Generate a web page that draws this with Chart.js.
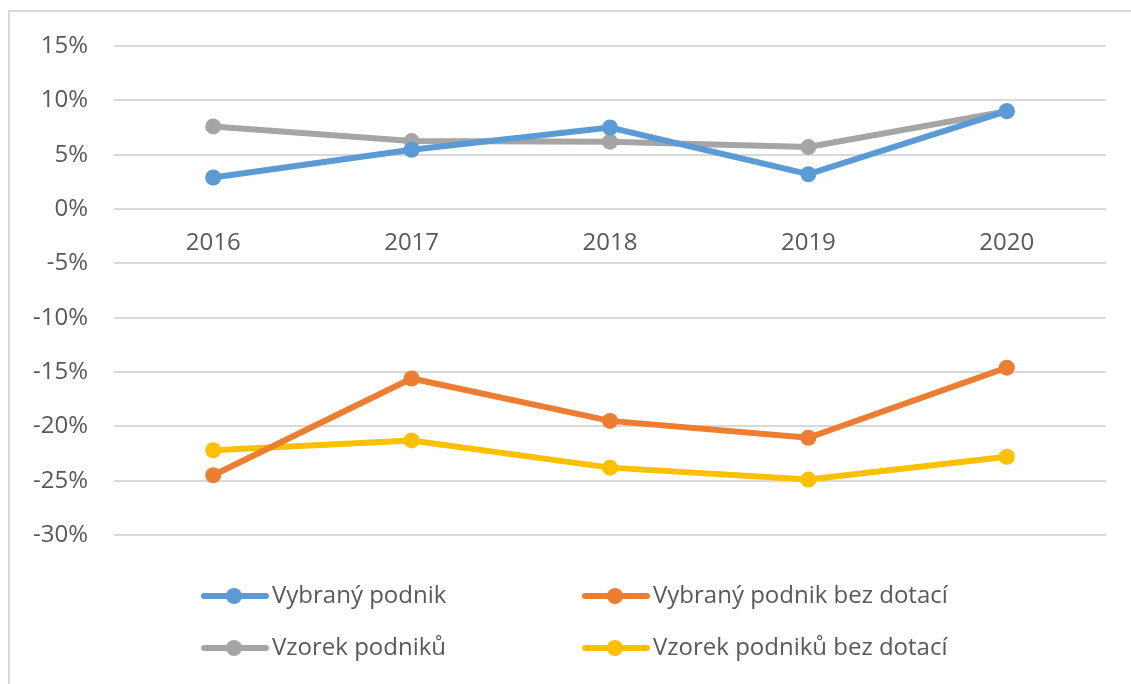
<!DOCTYPE html>
<html>
<head>
<meta charset="utf-8">
<script src="https://cdn.jsdelivr.net/npm/chart.js@4"></script>
<style>
  html, body { margin: 0; padding: 0; background: #fff; }
  #wrap { position: absolute; left: 0; top: 0; width: 1131px; height: 684px; }
  #frame { position: absolute; left: 8px; top: 10px; width: 1200px; height: 800px; border-left: 2px solid #d9d9d9; border-top: 2px solid #d9d9d9; box-sizing: border-box; }
  canvas { position: absolute; left: 0; top: 0; }
</style>
</head>
<body>
<div id="wrap">
  <div id="frame"></div>
  <canvas id="c" width="1131" height="684"></canvas>
</div>
<script>
const categories = ['2016', '2017', '2018', '2019', '2020'];
const vybranyPodnik = [2.9, 5.45, 7.5, 3.2, 9.0];
const vybranyBezDotaci = [-24.5, -15.6, -19.5, -21.05, -14.6];
const vzorekPodniku = [7.6, 6.25, 6.2, 5.7, 9.0];
const vzorekBezDotaci = [-22.2, -21.3, -23.8, -24.9, -22.8];
const yTicks = [15, 10, 5, 0, -5, -10, -15, -20, -25, -30];

const FONT = '"Open Sans", "Liberation Sans", sans-serif';
const TXT = '#595959';
const FS = 24;

function ds(label, data, color) {
  return {
    label, data,
    borderColor: color, backgroundColor: color,
    pointBackgroundColor: color, pointBorderColor: color,
    borderWidth: 6, pointRadius: 8, pointBorderWidth: 0,
    tension: 0, fill: false
  };
}

const legendPlugin = {
  id: 'customLegend',
  afterDraw(chart) {
    const ctx = chart.ctx;
    const cols = [201, 582];
    const rows = [596, 648];
    const dsets = chart.data.datasets;
    ctx.save();
    dsets.forEach((d, i) => {
      const x = cols[i % 2];
      const y = rows[Math.floor(i / 2)];
      ctx.strokeStyle = d.borderColor;
      ctx.lineWidth = 6;
      ctx.lineCap = 'round';
      ctx.beginPath();
      ctx.moveTo(x + 3, y);
      ctx.lineTo(x + 65, y);
      ctx.stroke();
      ctx.fillStyle = d.borderColor;
      ctx.beginPath();
      ctx.arc(x + 33, y, 8, 0, Math.PI * 2);
      ctx.fill();
      ctx.fillStyle = TXT;
      ctx.font = FS + 'px ' + FONT;
      ctx.textBaseline = 'middle';
      ctx.textAlign = 'left';
      ctx.fillText(d.label, x + 71, y);
    });
    ctx.restore();
  }
};

new Chart(document.getElementById('c'), {
  type: 'line',
  data: {
    labels: categories,
    datasets: [
      ds('Vybraný podnik', vybranyPodnik, '#5B9BD5'),
      ds('Vybraný podnik bez dotací', vybranyBezDotaci, '#ED7D31'),
      ds('Vzorek podniků', vzorekPodniku, '#A5A5A5'),
      ds('Vzorek podniků bez dotací', vzorekBezDotaci, '#FFC000')
    ]
  },
  options: {
    responsive: false,
    animation: false,
    devicePixelRatio: 1,
    layout: { padding: { left: 9, right: 25, top: 46, bottom: 149 } },
    plugins: { legend: { display: false }, tooltip: { enabled: false } },
    scales: {
      x: {
        position: { y: 0 },
        offset: true,
        grid: { display: false, drawTicks: false },
        border: { display: false },
        ticks: { color: TXT, font: { family: FONT, size: FS }, padding: 20, maxRotation: 0 },
        afterFit(s) { s.height = 0; }
      },
      y: {
        min: -30, max: 15,
        afterBuildTicks(s) { s.ticks = yTicks.map(v => ({ value: v })); },
        grid: { color: '#d9d9d9', lineWidth: 2, drawTicks: false },
        border: { display: false },
        ticks: {
          color: TXT, font: { family: FONT, size: FS }, padding: 26,
          callback: v => v + '%'
        },
        afterFit(s) { s.width = 105; }
      }
    }
  },
  plugins: [legendPlugin]
});
</script>
</body>
</html>
